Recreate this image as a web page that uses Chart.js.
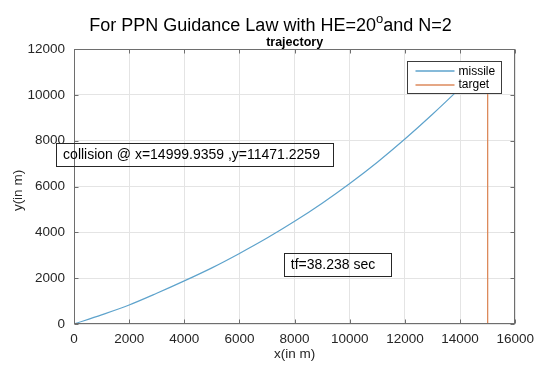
<!DOCTYPE html>
<html>
<head>
<meta charset="utf-8">
<script src="https://cdn.jsdelivr.net/npm/chart.js@4.4.1/dist/chart.umd.min.js"></script>
<style>
  html, body { margin: 0; padding: 0; background: #ffffff; }
  #wrap { width: 541px; height: 365px; }
</style>
</head>
<body>
<div id="wrap"><canvas id="c" width="541" height="365"></canvas></div>
<script>
// Missile trajectory (metres)
const missileX = [0, 1000, 2000, 3000, 4000, 5000, 6000, 7000, 8000, 9000, 10000, 11000, 12000, 13000, 14000, 14999.9359];
const missileY = [0, 400, 830, 1340, 1880, 2450, 3080, 3750, 4480, 5270, 6130, 7060, 8070, 9150, 10290, 11471.2259];
// Target track: climbs vertically at x = 15000 m
const targetX = [15000, 15000];
const targetY = [0, 11471.2259];

const xTicks = [0, 2000, 4000, 6000, 8000, 10000, 12000, 14000, 16000];
const yTicks = [0, 2000, 4000, 6000, 8000, 10000, 12000];
const seriesNames = ['missile', 'target'];

const titleParts = ['For PPN Guidance Law with HE=20', 'o', 'and N=2'];
const subTitle = 'trajectory';
const xLabel = 'x(in m)';
const yLabel = 'y(in m)';

// Text notes, anchored in data units (left edge, vertical middle)
const noteCollision = { text: 'collision @ x=14999.9359 ,y=11471.2259', x: -395, y: 7390, padR: 13 };
const noteTime = { text: 'tf=38.238 sec', x: 7860, y: 2590, padR: 16 };

const FONT = '"Liberation Sans", Arial, Helvetica, sans-serif';
const INK = '#262626';
const AXIS = '#6e6e6e';

function pts(xs, ys) { return xs.map((x, i) => ({ x: x, y: ys[i] })); }

const decor = {
  id: 'decor',
  afterDatasetsDraw(chart) {
    const ctx = chart.ctx;
    const a = chart.chartArea;
    const sx = chart.scales.x, sy = chart.scales.y;
    const L = Math.round(a.left) + 0.5, R = Math.round(a.right) - 0.5;
    const T = Math.round(a.top) + 0.5, B = Math.round(a.bottom) - 0.5;
    ctx.save();

    // axes box with inward ticks on all four sides
    ctx.strokeStyle = AXIS;
    ctx.lineWidth = 1;
    ctx.strokeRect(L, T, R - L, B - T);
    const tl = 4;
    ctx.beginPath();
    xTicks.forEach(v => {
      const px = Math.round(sx.getPixelForValue(v)) + 0.5;
      ctx.moveTo(px, B); ctx.lineTo(px, B - tl);
      ctx.moveTo(px, T); ctx.lineTo(px, T + tl);
    });
    yTicks.forEach(v => {
      const py = Math.round(sy.getPixelForValue(v)) + 0.5;
      ctx.moveTo(L, py); ctx.lineTo(L + tl, py);
      ctx.moveTo(R, py); ctx.lineTo(R - tl, py);
    });
    ctx.stroke();

    // text notes with outline boxes
    ctx.font = '14px ' + FONT;
    ctx.textBaseline = 'middle';
    ctx.textAlign = 'left';
    [noteCollision, noteTime].forEach(n => {
      const px = sx.getPixelForValue(n.x);
      const py = sy.getPixelForValue(n.y);
      const w = ctx.measureText(n.text).width;
      const bx = Math.round(px - 7) + 0.5;
      const by = Math.round(py - 12) + 0.5;
      const bw = Math.round(w + 7 + n.padR);
      ctx.strokeStyle = INK;
      ctx.lineWidth = 1;
      ctx.strokeRect(bx, by, bw, 23);
      ctx.fillStyle = '#000';
      ctx.fillText(n.text, px, py + 0.5);
    });

    // legend (north-east corner inside the axes)
    const ds = chart.data.datasets;
    const lw = 94, lh = 32;
    const lx = Math.round(a.right - 14 - lw) + 0.5;
    const ly = Math.round(a.top + 12) + 0.5;
    ctx.fillStyle = '#ffffff';
    ctx.fillRect(lx, ly, lw, lh);
    ctx.strokeStyle = '#3c3c3c';
    ctx.strokeRect(lx, ly, lw, lh);
    ctx.font = '12px ' + FONT;
    ctx.textBaseline = 'middle';
    ds.forEach((d, i) => {
      const ry = ly + 9.5 + i * 13.5;
      ctx.strokeStyle = d.borderColor;
      ctx.lineWidth = 1.5;
      ctx.beginPath();
      ctx.moveTo(lx + 8, Math.round(ry));
      ctx.lineTo(lx + 47, Math.round(ry));
      ctx.stroke();
      ctx.fillStyle = '#000';
      ctx.fillText(d.label, lx + 51, ry + 0.5);
    });
    ctx.restore();
  },
  afterDraw(chart) {
    const ctx = chart.ctx;
    const a = chart.chartArea;
    ctx.save();
    ctx.fillStyle = '#000';
    ctx.textBaseline = 'alphabetic';
    ctx.textAlign = 'left';

    // figure title with superscript "o"
    const big = '18px ' + FONT, sup = '13px ' + FONT;
    ctx.font = big;
    const w1 = ctx.measureText(titleParts[0]).width;
    const w3 = ctx.measureText(titleParts[2]).width;
    ctx.font = sup;
    const w2 = ctx.measureText(titleParts[1]).width;
    let x0 = chart.width / 2 - (w1 + w2 + w3) / 2;
    ctx.font = big; ctx.fillText(titleParts[0], x0, 31);
    ctx.font = sup; ctx.fillText(titleParts[1], x0 + w1, 23);
    ctx.font = big; ctx.fillText(titleParts[2], x0 + w1 + w2, 31);

    // axes title
    ctx.font = 'bold 12.5px ' + FONT;
    ctx.textAlign = 'center';
    ctx.fillText(subTitle, (a.left + a.right) / 2, 46);

    // axis labels
    ctx.fillStyle = INK;
    ctx.font = '13.5px ' + FONT;
    ctx.textBaseline = 'middle';
    ctx.fillText(xLabel, (a.left + a.right) / 2, 354);
    ctx.translate(18, (a.top + a.bottom) / 2 + 4);
    ctx.rotate(-Math.PI / 2);
    ctx.fillText(yLabel, 0, 0);
    ctx.restore();
  }
};

new Chart(document.getElementById('c'), {
  type: 'scatter',
  data: {
    datasets: [
      {
        label: seriesNames[0],
        data: pts(missileX, missileY),
        showLine: true,
        borderColor: '#5ea3cc',
        borderWidth: 1.2,
        pointRadius: 0,
        cubicInterpolationMode: 'monotone',
        fill: false
      },
      {
        label: seriesNames[1],
        data: pts(targetX, targetY),
        showLine: true,
        borderColor: '#dc8a5c',
        borderWidth: 1.3,
        pointRadius: 0,
        fill: false
      }
    ]
  },
  options: {
    responsive: false,
    animation: false,
    devicePixelRatio: 1,
    layout: { padding: { top: 49, right: 21, bottom: 0, left: 0 } },
    plugins: {
      legend: { display: false },
      title: { display: false },
      tooltip: { enabled: false }
    },
    scales: {
      x: {
        type: 'linear',
        min: 0, max: 16000,
        afterBuildTicks: s => { s.ticks = xTicks.map(v => ({ value: v })); },
        afterFit: s => { s.height = 41; },
        ticks: {
          callback: v => String(v),
          font: { family: FONT, size: 13.5 },
          color: INK,
          padding: 7,
          maxRotation: 0,
          autoSkip: false
        },
        grid: { color: '#e4e4e4', drawTicks: false, lineWidth: 1 },
        border: { display: false }
      },
      y: {
        type: 'linear',
        min: 0, max: 12000,
        afterBuildTicks: s => { s.ticks = yTicks.map(v => ({ value: v })); },
        afterFit: s => { s.width = 74; },
        ticks: {
          callback: v => String(v),
          font: { family: FONT, size: 13.5 },
          color: INK,
          padding: 9,
          autoSkip: false
        },
        grid: { color: '#e4e4e4', drawTicks: false, lineWidth: 1 },
        border: { display: false }
      }
    }
  },
  plugins: [decor]
});
</script>
</body>
</html>
